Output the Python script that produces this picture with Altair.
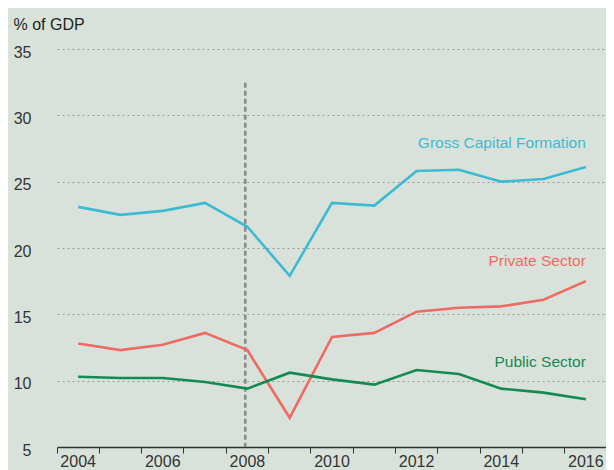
import altair as alt
import pandas as pd

years = list(range(2004, 2017))
gcf = [23.1, 22.5, 22.8, 23.4, 21.6, 17.9, 23.4, 23.2, 25.8, 25.9, 25.0, 25.2, 26.1]
private = [12.8, 12.3, 12.7, 13.6, 12.3, 7.2, 13.3, 13.6, 15.2, 15.5, 15.6, 16.1, 17.5]
public = [10.3, 10.2, 10.2, 9.9, 9.4, 10.6, 10.1, 9.7, 10.8, 10.5, 9.4, 9.1, 8.6]
series_names = ["Gross Capital Formation", "Private Sector", "Public Sector"]
colors = ["#3dbad3", "#ee6b64", "#138a52"]
label_y = [27.9, 19.0, 11.4]
y_ticks = [5, 10, 15, 20, 25, 30, 35]
crisis_year = 2008
crisis_top = 32.45
crisis_bottom = 5

rows = []
for name, vals in zip(series_names, [gcf, private, public]):
    for yr, v in zip(years, vals):
        rows.append({"year": yr, "value": v, "series": name})
df = pd.DataFrame(rows)
labels_df = pd.DataFrame({"year": [years[-1]] * 3, "y": label_y, "series": series_names})
rule_df = pd.DataFrame({"year": [crisis_year], "top": [crisis_top], "bottom": [crisis_bottom]})

xscale = alt.Scale(type="band", domain=years, range=[8, 558], paddingInner=0, paddingOuter=0)
yscale = alt.Scale(domain=[5, 35], nice=False, zero=False)
color_scale = alt.Scale(domain=series_names, range=colors)

xaxis = alt.Axis(
    title=None, labelAngle=0, bandPosition=0, grid=False,
    domainColor="#333333", domainWidth=1.5, tickColor="#333333", tickSize=6, tickWidth=1,
    labelFontSize=16, labelColor="#333333", labelPadding=0,
    labelExpr="datum.value % 2 == 0 ? datum.label : ''",
)
yaxis = alt.Axis(
    values=y_ticks, domain=False, ticks=False, grid=True,
    gridDash=[2, 3], gridColor="#9a9a9a", gridWidth=1,
    labelFontSize=16, labelColor="#333333", labelPadding=18, labelOffset=3,
    title="% of GDP", titleAngle=0, titleAlign="left", titleBaseline="middle",
    titleX=-36, titleY=-25, titleFontWeight="normal", titleFontSize=16, titleColor="#222222",
)

rule = alt.Chart(rule_df).mark_rule(strokeDash=[5, 3], strokeWidth=2.5, color="#8a8a8a").encode(
    x=alt.X("year:O", scale=xscale, axis=xaxis, bandPosition=0.45),
    y=alt.Y("top:Q", scale=yscale, axis=yaxis),
    y2="bottom:Q",
)

lines = alt.Chart(df).mark_line(strokeWidth=2.6).encode(
    x=alt.X("year:O", scale=xscale, axis=xaxis),
    y=alt.Y("value:Q", scale=yscale, axis=yaxis),
    color=alt.Color("series:N", scale=color_scale, legend=None),
    detail="series:N",
)

texts = alt.Chart(labels_df).mark_text(align="right", baseline="middle", fontSize=15.5).encode(
    x=alt.X("year:O", scale=xscale, axis=xaxis),
    y=alt.Y("y:Q", scale=yscale, axis=yaxis),
    text="series:N",
    color=alt.Color("series:N", scale=color_scale, legend=None),
)

chart = alt.layer(rule, lines, texts).properties(
    width=557, height=398,
    autosize=alt.AutoSizeParams(type="none"),
    padding={"left": 41, "top": 41, "right": 0, "bottom": 23},
    background="#d9e2da",
).configure(font="Liberation Sans").configure_view(stroke=None)

chart.save("out.html", embed_options={"renderer": "svg", "actions": False})
